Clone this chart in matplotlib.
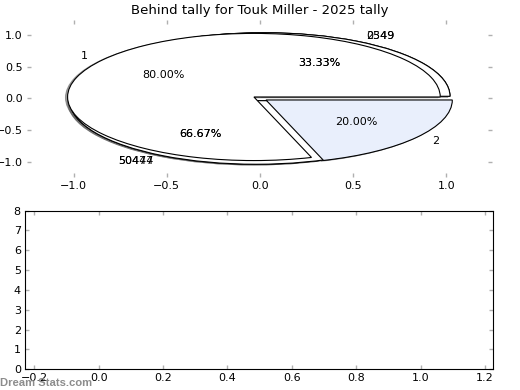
import matplotlib
matplotlib.use("Agg")
import matplotlib.pyplot as plt

title = "Behind tally for Touk Miller - 2025 tally"
main_values = [80, 20]
main_labels = ["1", "2"]
main_colors = ["#ffffff", "#e9effc"]
main_explode = [0.04, 0.04]

sub_values = [33.33, 66.67]
sub_labels_a = ["2549", "50474"]
sub_labels_b = ["0349", "50447"]
sub_colors = ["#ffffff", "#ffffff"]
sub_explode = [0.04, 0.04]

bottom_xticks = [-0.2, 0.0, 0.2, 0.4, 0.6, 0.8, 1.0, 1.2]
bottom_yticks = [0, 1, 2, 3, 4, 5, 6, 7, 8]

fig = plt.figure(figsize=(5.2, 3.9), dpi=100)
ax1 = fig.add_axes([0.052, 0.546, 0.894, 0.403])
ax2 = fig.add_axes([0.048, 0.053, 0.900, 0.407])

wprops = dict(edgecolor="black", linewidth=0.8)
shadow = dict(ox=-0.008, oy=-0.008, shade=0.6, alpha=0.6)
for labs in (sub_labels_a, sub_labels_b):
    ax1.pie(sub_values, labels=labs, colors=sub_colors, explode=sub_explode,
            autopct="%.2f%%", startangle=0, wedgeprops=wprops, shadow=shadow,
            textprops=dict(fontsize=8), frame=True)
ax1.pie(main_values, labels=main_labels, colors=main_colors, explode=main_explode,
        autopct="%.2f%%", startangle=0, wedgeprops=wprops, shadow=shadow,
        textprops=dict(fontsize=8), frame=True)
ax1.set_aspect("auto")
ax1.set_xlim(-1.25, 1.245)
ax1.set_ylim(-1.236, 1.236)
ax1.set_xticks([-1.0, -0.5, 0.0, 0.5, 1.0])
ax1.set_yticks([-1.0, -0.5, 0.0, 0.5, 1.0])
ax1.set_frame_on(False)
ax1.set_title(title, fontsize=9.5, pad=4)

ax2.set_xlim(-0.229, 1.225)
ax2.set_ylim(0, 8)
ax2.set_xticks(bottom_xticks)
ax2.set_yticks(bottom_yticks)

for ax in (ax1, ax2):
    ax.tick_params(direction="in", length=3, width=1, color="#b0b0b0",
                   labelsize=8, top=True, right=True, pad=3)

fig.text(0.0, 0.005, "Dream Stats.com", color="#8c8c8c", fontsize=8.1,
         family="Liberation Sans", fontweight="bold", ha="left", va="bottom")

fig.savefig("out.png", dpi=100)
